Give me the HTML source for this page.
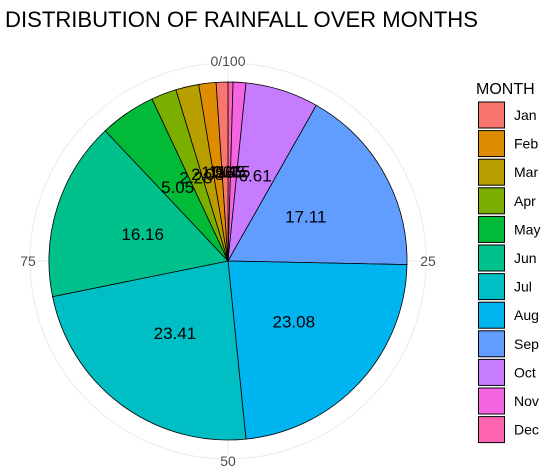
<!DOCTYPE html>
<html><head><meta charset="utf-8"><style>
body{margin:0;background:#fff;font-family:"Liberation Sans",Arial,sans-serif}
</style></head><body>
<svg width="544" height="471" viewBox="0 0 544 471">
<text x="5" y="27" font-size="22" fill="#000" textLength="473" lengthAdjust="spacingAndGlyphs">DISTRIBUTION OF RAINFALL OVER MONTHS</text>
<g id="grid"></g>
<g id="slices"></g>
<g id="labels"></g>
<g id="ticks"></g>
<text x="476" y="94" font-size="16" fill="#000">MONTH</text>
<g id="legend"></g>
</svg>
<script>
const months=["Jan","Feb","Mar","Apr","May","Jun","Jul","Aug","Sep","Oct","Nov","Dec"];
const values=[1.06,1.56,2.08,2.28,5.05,16.16,23.41,23.08,17.11,6.61,1.15,0.45];
const colors=["#F8766D","#DE8C00","#B79F00","#7CAE00","#00BA38","#00C08B","#00BFC4","#00B4F0","#619CFF","#C77CFF","#F564E3","#FF64B0"];
const tickVals=[0,25,50,75];
const tickLabels=["0/100","25","50","75"];
const NS="http://www.w3.org/2000/svg";
const cx=228,cy=261,R=179;
const total=values.reduce((a,b)=>a+b,0);
function ang(v){return v/total*2*Math.PI;}
function pt(v,r){const a=ang(v);return [cx+r*Math.sin(a),cy-r*Math.cos(a)];}
const grid=document.getElementById('grid');
const gc=document.createElementNS(NS,'circle');
gc.setAttribute('cx',cx);gc.setAttribute('cy',cy);gc.setAttribute('r',198);
gc.setAttribute('fill','none');gc.setAttribute('stroke','#ebebeb');


grid.appendChild(gc);
tickVals.forEach((t,i)=>{
  const [x,y]=pt(t,198);
  const l=document.createElementNS(NS,'line');
  l.setAttribute('x1',cx);l.setAttribute('y1',cy);l.setAttribute('x2',x);l.setAttribute('y2',y);
  l.setAttribute('stroke','#ebebeb');
  
  
  grid.appendChild(l);
  const [tx,ty]=pt(t,200);
  const tt=document.createElementNS(NS,'text');
  tt.setAttribute('x',tx);tt.setAttribute('y',ty+5);
  tt.setAttribute('text-anchor','middle');tt.setAttribute('font-size','14');tt.setAttribute('fill','#4d4d4d');
  tt.setAttribute('stroke','#fff');tt.setAttribute('stroke-width','3');tt.setAttribute('paint-order','stroke');
  tt.textContent=tickLabels[i];
  
  
  document.getElementById('ticks').appendChild(tt);
});
const order=months.map((m,i)=>i).reverse();
let cum=0;
const sl=document.getElementById('slices'),lb=document.getElementById('labels');
order.forEach(i=>{
  const v=values[i];const s=cum,e=cum+v;cum=e;
  const [x1,y1]=pt(s,R),[x2,y2]=pt(e,R);
  const large=(v/total>0.5)?1:0;
  const p=document.createElementNS(NS,'path');
  p.setAttribute('d',`M${cx},${cy}L${x1},${y1}A${R},${R} 0 ${large} 1 ${x2},${y2}Z`);
  p.setAttribute('fill',colors[i]);p.setAttribute('stroke','#000');p.setAttribute('stroke-width','0.8');
  
  
  sl.appendChild(p);
  const [lx,ly]=pt((s+e)/2,R*0.5);
  const t=document.createElementNS(NS,'text');
  t.setAttribute('x',lx);t.setAttribute('y',ly+6);t.setAttribute('text-anchor','middle');
  t.setAttribute('font-size','17');t.setAttribute('fill','#000');
  t.textContent=v.toFixed(2);
  
  
  lb.appendChild(t);
});
const lg=document.getElementById('legend');
months.forEach((m,i)=>{
  const y=102+i*28.6;
  const r=document.createElementNS(NS,'rect');
  r.setAttribute('x',478.5);r.setAttribute('y',y);r.setAttribute('width',26);r.setAttribute('height',26);
  r.setAttribute('fill',colors[i]);r.setAttribute('stroke','#000');r.setAttribute('stroke-width','1');
  
  
  lg.appendChild(r);
  const t=document.createElementNS(NS,'text');
  t.setAttribute('x',514);t.setAttribute('y',y+18);t.setAttribute('font-size','14');t.setAttribute('fill','#000');
  t.textContent=m;
  
  
  lg.appendChild(t);
});
</script>
</body></html>
